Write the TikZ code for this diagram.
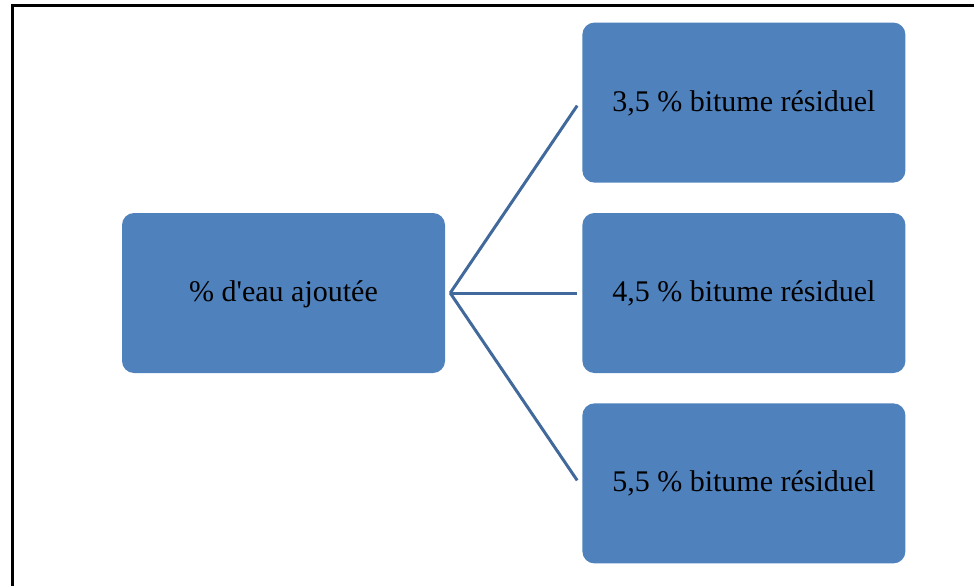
\documentclass[tikz,border=0pt]{standalone}
\usepackage{fontspec}
\setmainfont{Liberation Serif}
\usetikzlibrary{positioning}
\definecolor{boxblue}{HTML}{4F81BD}
\definecolor{linkblue}{HTML}{41699B}

\begin{document}
\begin{tikzpicture}[
    x=1pt, y=1pt,
    node distance=30pt and 137pt,
    font=\fontsize{30}{36}\selectfont,
    block/.style={rectangle, fill=boxblue, rounded corners=12pt, minimum width=323pt, minimum height=160pt, align=center, inner sep=0pt, text depth=4pt},
    link/.style={line width=3pt, draw=linkblue},
    frame/.style={line width=3pt, draw=black}
]
\useasboundingbox (0,0) rectangle (974,-586);
% ---------------- FRAME ----------------
\draw[frame] (12,-586) -- (12,-6) -- (974,-6);
% ---------------- BOXES ----------------
\node[block] (eau) at (283.5,-293) {\% d\textquotesingle eau ajoutée};
\node[block, right=of eau] (mid) {4,5 \% bitume résiduel};
\node[block, above=of mid] (top) {3,5 \% bitume résiduel};
\node[block, below=of mid] (bot) {5,5 \% bitume résiduel};
% ---------------- LINKS ----------------
\coordinate (fork) at ([xshift=5pt]eau.east);
\draw[link] (fork) -- ([xshift=-5pt,yshift=-3pt]top.west);
\draw[link] (fork) -- ([xshift=-5pt]mid.west);
\draw[link] (fork) -- ([xshift=-5pt,yshift=3pt]bot.west);
\end{tikzpicture}
\end{document}
